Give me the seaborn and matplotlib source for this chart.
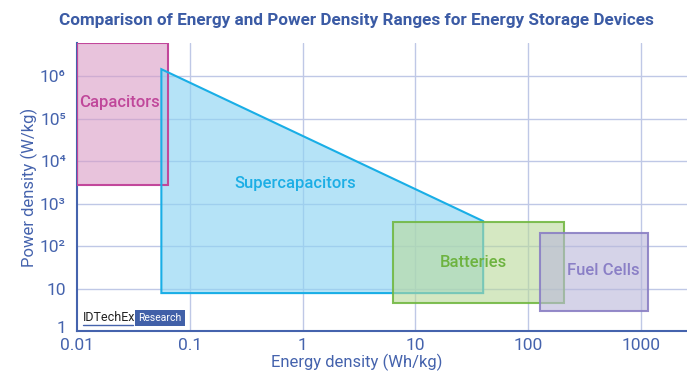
import matplotlib
matplotlib.use("Agg")
import matplotlib.pyplot as plt
import matplotlib.transforms as mtransforms
import seaborn as sns
from matplotlib.patches import Rectangle

# rectangles: capacitors, batteries, fuel cells
box_names = ["Capacitors", "Batteries", "Fuel Cells"]
box_x_min = [0.01, 6.4, 129]
box_x_max = [0.064, 210, 1170]
box_y_min = [2700, 4.6, 2.95]
box_y_max = [6.0e6, 370, 202]

# supercapacitor polygon
super_x = [0.056, 40, 40, 0.056]
super_y = [1.45e6, 385, 7.8, 7.8]

# label anchors (data coords)
label_names = ["Capacitors", "Supercapacitors", "Batteries", "Fuel Cells"]
label_x = [0.024, 0.86, 33, 470]
label_y = [2.4e5, 2.9e3, 40, 26]

x_ticks = [0.01, 0.1, 1, 10, 100, 1000]
x_tick_labels = ["0.01", "0.1", "1", "10", "100", "1000"]
y_ticks = [1, 10, 1e2, 1e3, 1e4, 1e5, 1e6]
y_tick_labels = ["1", "10", "10²", "10³", "10⁴", "10⁵", "10⁶"]

fills = {"Capacitors": "#d99bc6", "Supercapacitors": "#8ed4f3",
         "Batteries": "#b9d99a", "Fuel Cells": "#b9b6da"}
edges = {"Capacitors": "#c2479b", "Supercapacitors": "#19aee6",
         "Batteries": "#72b843", "Fuel Cells": "#8a7fc4"}
texts = {"Capacitors": "#c0479a", "Supercapacitors": "#1caee5",
         "Batteries": "#6db33f", "Fuel Cells": "#8a7fc6"}

blue = "#4563ad"

sns.set_style("white")
plt.rcParams["font.family"] = ["Roboto", "DejaVu Sans"]

fig = plt.figure(figsize=(6.87, 3.75), dpi=100)
ax = fig.add_axes([77 / 687, 1 - 331 / 375, 1 - 77 / 687, (331 - 43) / 375])
ax.set_xscale("log")
ax.set_yscale("log")
ax.set_xlim(0.01, 2570)
ax.set_ylim(1, 6.0e6)

# grid
for xv in x_ticks[1:]:
    ax.axvline(xv, color="#bfc8e6", lw=1, zorder=0)
for yv in y_ticks[1:]:
    ax.axhline(yv, color="#bfc8e6", lw=1, zorder=0)

# capacitors
i = 0
ax.add_patch(Rectangle((box_x_min[i], box_y_min[i]), box_x_max[i] - box_x_min[i],
                       box_y_max[i] - box_y_min[i], facecolor=fills["Capacitors"],
                       alpha=0.6, edgecolor="none", zorder=1))
ax.add_patch(Rectangle((box_x_min[i], box_y_min[i]), box_x_max[i] - box_x_min[i],
                       box_y_max[i] - box_y_min[i], facecolor="none",
                       edgecolor=edges["Capacitors"], lw=1.5, zorder=3))

# supercapacitors
ax.fill(super_x, super_y, facecolor=fills["Supercapacitors"], alpha=0.65,
        edgecolor="none", zorder=2)
ax.fill(super_x, super_y, facecolor="none", edgecolor=edges["Supercapacitors"],
        lw=1.5, zorder=3)

for i in [1, 2]:
    name = box_names[i]
    ax.add_patch(Rectangle((box_x_min[i], box_y_min[i]), box_x_max[i] - box_x_min[i],
                           box_y_max[i] - box_y_min[i], facecolor=fills[name],
                           alpha=0.6, edgecolor="none", zorder=2 + i))
    ax.add_patch(Rectangle((box_x_min[i], box_y_min[i]), box_x_max[i] - box_x_min[i],
                           box_y_max[i] - box_y_min[i], facecolor="none",
                           edgecolor=edges[name], lw=1.5, alpha=0.9, zorder=3 + i))

for name, lx, ly in zip(label_names, label_x, label_y):
    ax.text(lx, ly, name, color=texts[name], fontsize=12, fontweight="medium",
            ha="center", va="center", zorder=10)

# axes styling
for s in ["top", "right"]:
    ax.spines[s].set_visible(False)
for s in ["left", "bottom"]:
    ax.spines[s].set_color(blue)
    ax.spines[s].set_linewidth(1.5)
ax.set_xticks(x_ticks)
ax.set_xticklabels(x_tick_labels)
ax.set_yticks(y_ticks)
ax.set_yticklabels(y_tick_labels)
ax.minorticks_off()
ax.tick_params(axis="both", length=0, labelsize=12.5, labelcolor=blue)
ax.tick_params(axis="x", pad=5)
ax.tick_params(axis="y", pad=8)
# lift the "1" a little so it clears "0.01"
lbl = ax.get_yticklabels()[0]
lbl.set_transform(lbl.get_transform() + mtransforms.ScaledTranslation(0, 3 / 72, fig.dpi_scale_trans))
ax.set_xlabel("Energy density (Wh/kg)", fontsize=12, color=blue)
ax.xaxis.set_label_coords((357 - 77) / 610, -0.11)
ax.xaxis.label.set_va("center")
ax.set_ylabel("Power density (W/kg)", fontsize=12, color=blue, labelpad=1)

fig.text(356 / 687, 1 - 20 / 375, "Comparison of Energy and Power Density Ranges for Energy Storage Devices",
         ha="center", va="center", fontsize=12.3, fontweight="bold", color="#3b5ba5")

# logo
ax.text(0.010, 0.046, "IDTechEx", transform=ax.transAxes, fontsize=9,
        color="#222222", ha="left", va="center", zorder=10)
ax.plot([0.010, 0.092], [0.020, 0.020], transform=ax.transAxes, color=blue, lw=1, zorder=10)
ax.text(0.101, 0.046, "Research", transform=ax.transAxes, fontsize=7.5, color="white",
        ha="left", va="center", zorder=10,
        bbox=dict(boxstyle="square,pad=0.3", facecolor="#4160a8", edgecolor="none"))

fig.savefig("out.png", dpi=100)
